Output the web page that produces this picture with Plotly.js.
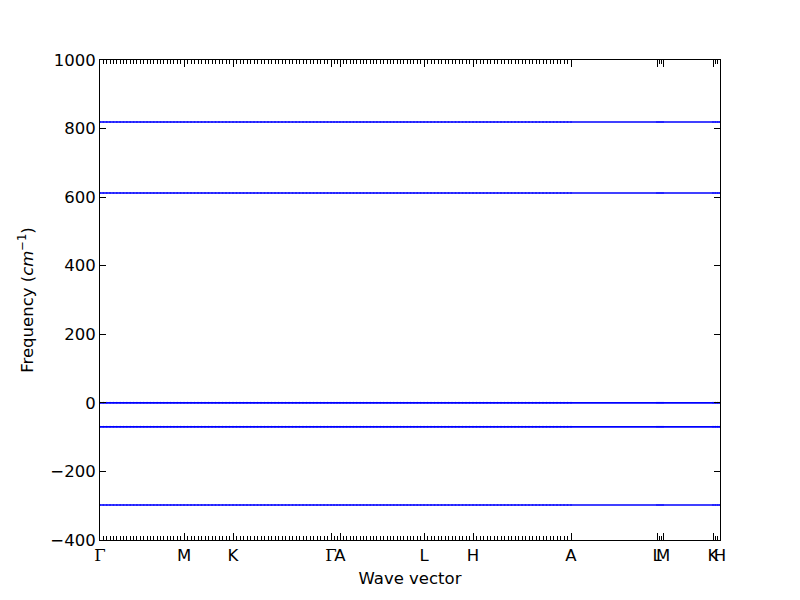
<!DOCTYPE html>
<html>
<head>
<meta charset="utf-8">
<script src="https://cdn.plot.ly/plotly-3.0.1.min.js"></script>
<style>html,body{margin:0;padding:0;background:#fff;}</style>
</head>
<body>
<div id="chart" style="width:800px;height:600px;"></div>
<script>
// High-symmetry points along the path (label, path distance)
const labelText = ['Γ', 'M', 'K', 'Γ', 'A', 'L', 'H', 'A', 'L', 'M', 'K', 'H'];
const labelPos  = [0, 0.84, 1.33, 2.31, 2.40, 3.24, 3.73, 4.71, 5.57, 5.63, 6.13, 6.20];
// Number of q-point intervals sampled in each segment
const segIntervals = [25, 14, 28, 3, 25, 14, 28, 1, 3, 1, 3];
// Band frequencies (cm^-1), flat across the path
const bandFreq = [819, 612, 0, -70, -298];

// q-point path distances built from segment endpoints
const qDist = [];
for (let s = 0; s < segIntervals.length; s++) {
  const a = labelPos[s], b = labelPos[s + 1], n = segIntervals[s];
  for (let i = (s === 0 ? 0 : 1); i <= n; i++) qDist.push(a + (b - a) * i / n);
}

const traces = bandFreq.map(f => ({
  x: qDist,
  y: qDist.map(() => f),
  type: 'scatter',
  mode: 'lines+markers',
  line: {color: '#0000ff', width: 1.6},
  marker: {color: 'rgba(0,0,255,0.6)', size: 2},
  hoverinfo: 'skip',
  showlegend: false
}));

const tickText = labelText.map(t => t === 'Γ'
  ? '<span style="font-family:\'DejaVu Serif\'">Γ</span>' : t);

const font = {family: 'DejaVu Sans, sans-serif', size: 16.5, color: '#000'};

const layout = {
  width: 800, height: 600,
  margin: {l: 100, r: 80, t: 60, b: 60},
  paper_bgcolor: '#fff', plot_bgcolor: '#fff',
  font: font,
  showlegend: false,
  xaxis: {
    range: [labelPos[0], labelPos[labelPos.length - 1]],
    tickmode: 'array', tickvals: labelPos, ticktext: tickText,
    tickangle: 0,
    ticks: 'inside', ticklen: 7, tickwidth: 1, tickcolor: '#000',
    minor: {tickmode: 'array', tickvals: qDist, ticks: 'inside', ticklen: 4, tickwidth: 1, tickcolor: '#000'},
    showline: true, linecolor: '#000', linewidth: 1, mirror: 'allticks',
    showgrid: false, zeroline: false,
    tickfont: font,
    title: {text: 'Wave vector', font: font, standoff: 8}
  },
  yaxis: {
    range: [-400, 1000],
    tickmode: 'array', tickvals: [-400, -200, 0, 200, 400, 600, 800, 1000],
    ticktext: ['−400', '−200', '0', '200', '400', '600', '800', '1000'],
    ticks: 'inside', ticklen: 6, tickwidth: 1, tickcolor: '#000',
    showline: true, linecolor: '#000', linewidth: 1, mirror: 'allticks',
    showgrid: false, zeroline: false,
    tickfont: font,
    title: {text: 'Frequency (<i>cm</i><sup>−1</sup>)', font: font, standoff: 12}
  }
};

Plotly.newPlot('chart', traces, layout, {displayModeBar: false, staticPlot: true});
</script>
</body>
</html>
